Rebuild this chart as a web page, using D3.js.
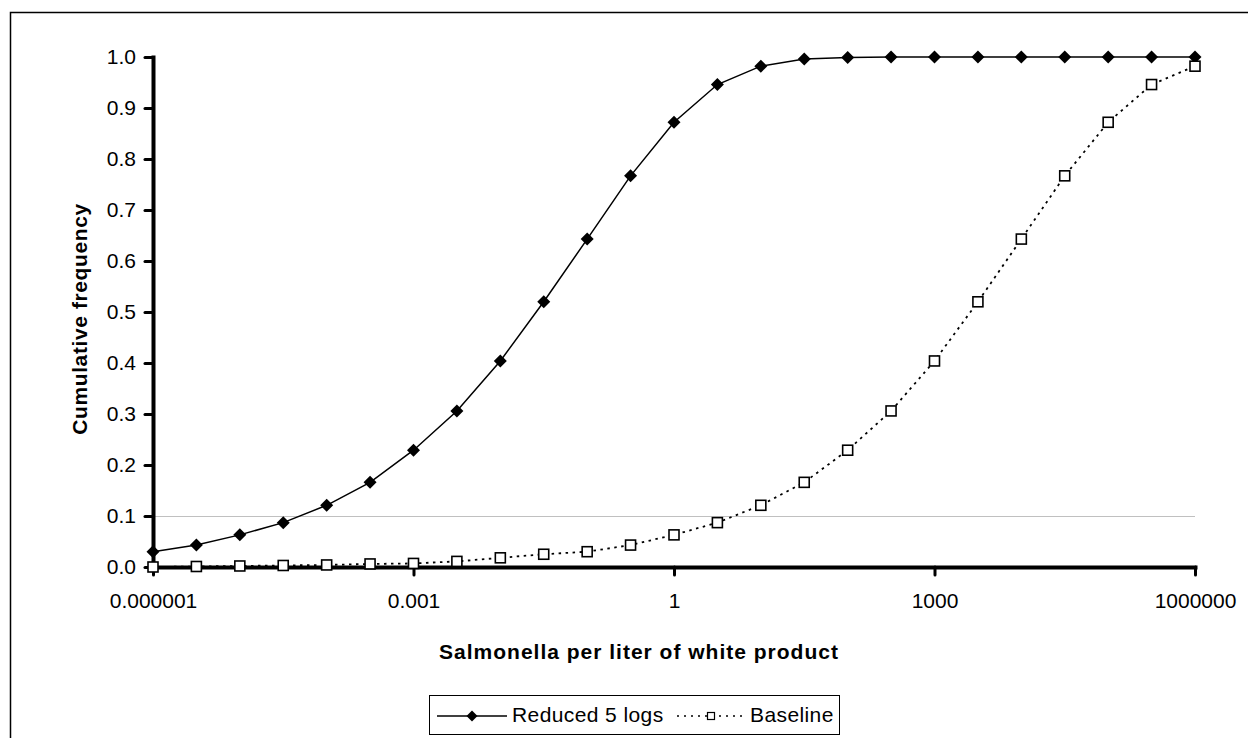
<!DOCTYPE html>
<html>
<head>
<meta charset="utf-8">
<script src="https://cdn.jsdelivr.net/npm/d3@7"></script>
<style>
  html, body { margin: 0; padding: 0; background: #fff; }
  svg { display: block; font-family: "Liberation Sans", Arial, sans-serif; }
</style>
</head>
<body>
<div id="chart"></div>
<script>
// Concentrations (half-log steps from 1e-6 to 1e6)
var concentrations = [1e-6, 3.16e-6, 1e-5, 3.16e-5, 1e-4, 3.16e-4, 1e-3, 3.16e-3, 1e-2, 3.16e-2, 0.1, 0.316,
	1, 3.16, 10, 31.6, 100, 316, 1000, 3162, 1e4, 3.16e4, 1e5, 3.16e5, 1e6];

var reduced5logs = [0.030, 0.043, 0.063, 0.087, 0.121, 0.166, 0.229, 0.306, 0.404, 0.520, 0.643, 0.767,
	0.872, 0.946, 0.982, 0.996, 0.999, 1.0, 1.0, 1.0, 1.0, 1.0, 1.0, 1.0, 1.0];

var baseline = [0.000, 0.001, 0.002, 0.003, 0.004, 0.006, 0.007, 0.011, 0.018, 0.025, 0.030, 0.043,
	0.063, 0.087, 0.121, 0.166, 0.229, 0.306, 0.404, 0.520, 0.643, 0.767, 0.872, 0.946, 0.982];

var seriesNames = ["Reduced 5 logs", "Baseline"];

var xTickValues = [1e-6, 1e-3, 1, 1e3, 1e6];
var xTickLabels = ["0.000001", "0.001", "1", "1000", "1000000"];
var yTickValues = [0, 0.1, 0.2, 0.3, 0.4, 0.5, 0.6, 0.7, 0.8, 0.9, 1.0];
var gridValues = [0.1];

var totwidth = 1248,
	totheight = 738;

var svg = d3.select("#chart").append("svg")
	.attr("width", totwidth)
	.attr("height", totheight);

// Outer frame
svg.append("rect")
	.attr("x", 10.5).attr("y", 12.5)
	.attr("width", totwidth).attr("height", totheight)
	.attr("fill", "white")
	.attr("stroke", "#000")
	.attr("stroke-width", 1.5);

// Scales
var x = d3.scaleLog()
	.domain([1e-6, 1e6])
	.range([153, 1195]);

var y = d3.scaleLinear()
	.domain([0, 1])
	.range([567, 57]);

// Gridline at 0.1
svg.append("g")
	.selectAll("line")
	.data(gridValues)
	.enter().append("line")
		.attr("x1", x(1e-6)).attr("x2", x(1e6))
		.attr("y1", function(d) { return y(d) + 0.5; })
		.attr("y2", function(d) { return y(d) + 0.5; })
		.attr("stroke", "#c0c0c0")
		.attr("stroke-width", 1);

// Axes
var xAxis = d3.axisBottom(x)
	.tickValues(xTickValues)
	.tickFormat(function(d, i) { return xTickLabels[i]; })
	.tickSizeInner(8)
	.tickSizeOuter(0)
	.tickPadding(18);

var yAxis = d3.axisLeft(y)
	.tickValues(yTickValues)
	.tickFormat(d3.format(".1f"))
	.tickSizeInner(8)
	.tickSizeOuter(0)
	.tickPadding(9);

var gx = svg.append("g")
	.attr("transform", "translate(0," + y(0) + ")")
	.call(xAxis);

var gy = svg.append("g")
	.attr("transform", "translate(" + x(1e-6) + ",0)")
	.call(yAxis);

[gx, gy].forEach(function(g) {
	g.select(".domain").attr("stroke", "#000").attr("stroke-width", 4).attr("stroke-linecap", "square");
	g.selectAll(".tick line").attr("stroke", "#000").attr("stroke-width", 3).attr("stroke-linecap", "round");
	g.selectAll(".tick text")
		.attr("fill", "#000")
		.style("font-size", "21px")
		.style("font-family", "'Liberation Sans', Arial, sans-serif");
});

// Axis titles
svg.append("text")
	.attr("x", 639).attr("y", 659)
	.attr("text-anchor", "middle")
	.style("font-size", "21px")
	.style("font-weight", "bold")
	.style("letter-spacing", "1px")
	.text("Salmonella per liter of white product");

svg.append("text")
	.attr("transform", "translate(87,319) rotate(-90)")
	.attr("text-anchor", "middle")
	.style("font-size", "21px")
	.style("font-weight", "bold")
	.style("letter-spacing", "0.6px")
	.text("Cumulative frequency");

// Lines
var line = d3.line()
	.x(function(d) { return x(d[0]); })
	.y(function(d) { return y(d[1]); });

var reducedData = d3.zip(concentrations, reduced5logs);
var baseData = d3.zip(concentrations, baseline);

svg.append("path")
	.datum(baseData)
	.attr("d", line)
	.attr("fill", "none")
	.attr("stroke", "#000")
	.attr("stroke-width", 1.8)
	.attr("stroke-dasharray", "2.5,4.5");

svg.append("path")
	.datum(reducedData)
	.attr("d", line)
	.attr("fill", "none")
	.attr("stroke", "#000")
	.attr("stroke-width", 1.5);

// Markers
function diamondPath(s) {
	return "M0," + (-s) + "L" + s + ",0L0," + s + "L" + (-s) + ",0Z";
}

svg.append("g")
	.selectAll("path")
	.data(reducedData)
	.enter().append("path")
		.attr("transform", function(d) { return "translate(" + x(d[0]) + "," + y(d[1]) + ")"; })
		.attr("d", diamondPath(6.5))
		.attr("fill", "#000");

svg.append("g")
	.selectAll("rect")
	.data(baseData)
	.enter().append("rect")
		.attr("x", function(d) { return x(d[0]) - 5; })
		.attr("y", function(d) { return y(d[1]) - 5; })
		.attr("width", 10).attr("height", 10)
		.attr("fill", "#fff")
		.attr("stroke", "#000")
		.attr("stroke-width", 1.6);

// Legend
var legend = svg.append("g");

legend.append("rect")
	.attr("x", 429.5).attr("y", 695.5)
	.attr("width", 410).attr("height", 39)
	.attr("fill", "#fff")
	.attr("stroke", "#000")
	.attr("stroke-width", 1);

legend.append("line")
	.attr("x1", 437).attr("x2", 507).attr("y1", 716).attr("y2", 716)
	.attr("stroke", "#000").attr("stroke-width", 1.5);
legend.append("path")
	.attr("transform", "translate(472,716)")
	.attr("d", diamondPath(5.5))
	.attr("fill", "#000");
legend.append("text")
	.attr("x", 512).attr("y", 722)
	.style("font-size", "21px")
	.style("letter-spacing", "0.4px")
	.text(seriesNames[0]);

legend.append("line")
	.attr("x1", 677).attr("x2", 745).attr("y1", 716).attr("y2", 716)
	.attr("stroke", "#000").attr("stroke-width", 1.5)
	.attr("stroke-dasharray", "2,5");
legend.append("rect")
	.attr("x", 707.5).attr("y", 712.5)
	.attr("width", 7).attr("height", 7)
	.attr("fill", "#fff")
	.attr("stroke", "#000")
	.attr("stroke-width", 1.2);
legend.append("text")
	.attr("x", 750).attr("y", 722)
	.style("font-size", "21px")
	.style("letter-spacing", "0.4px")
	.text(seriesNames[1]);
</script>
</body>
</html>
